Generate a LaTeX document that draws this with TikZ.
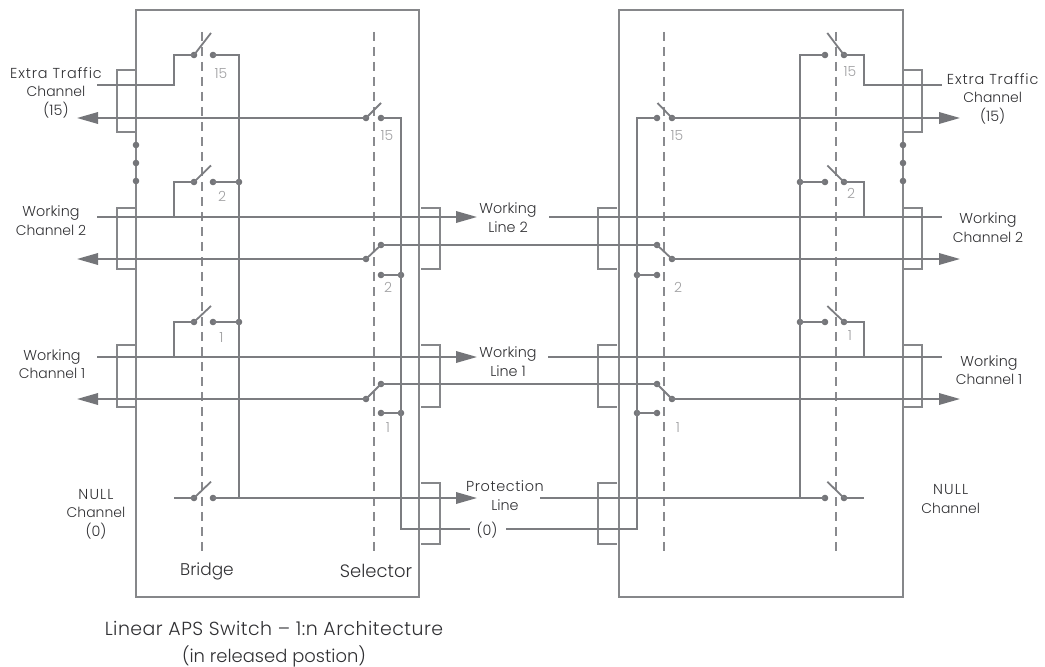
\documentclass[tikz,border=0pt]{standalone}
\usepackage{fontspec}
\setmainfont{Poppins Light}
\usetikzlibrary{arrows.meta}
\definecolor{wirec}{HTML}{7C7D81}
\definecolor{boxc}{HTML}{86878A}
\definecolor{tipc}{HTML}{747579}
\definecolor{numc}{HTML}{A0A0A2}
\definecolor{txtc}{HTML}{303033}
\newcommand\fs[2]{\fontsize{#1}{18.7}\selectfont\addfontfeature{LetterSpace=#2}}
\tikzset{
  wire/.style={draw=wirec,line width=1.8bp,line cap=butt,line join=miter},
  frame/.style={draw=boxc,line width=1.8bp,line join=miter},
  bracket/.style={draw=boxc,line width=1.7bp,line join=miter},
  gang/.style={draw=wirec!90!white,line width=1.8bp,dash pattern=on 9bp off 6bp},
  arrowwire/.style={wire,-{Triangle[length=21bp,width=11.5bp,color=tipc]}},
  contact/.style={circle,fill=tipc,draw=none,minimum size=6.6bp,inner sep=0pt},
  lbl/.style={font=\fontsize{14.4}{18.7}\selectfont,text=txtc,align=center,inner sep=0pt},
  num/.style={font=\fontsize{14}{15}\selectfont,text=numc,inner sep=0pt},
}
\newcommand\Ct[3]{\node[contact] (#1) at (#2,#3) {};}
\newcommand\chan[1]{{\fontsize{14}{18.7}\selectfont #1}}
\newcommand\xtra{{\fs{14.5}{6}Extra Traffic}}
\begin{document}
\begin{tikzpicture}[x=1bp,y=-1bp]
\useasboundingbox (0,0) rectangle (1045,667);
% frames
\coordinate (LBtl) at (136,10);
\coordinate (LBbr) at (419,597);
\coordinate (RBtl) at (619,10);
\coordinate (RBbr) at (903,597);
\draw[frame] (LBtl) rectangle (LBbr);
\draw[frame] (RBtl) rectangle (RBbr);
% gang lines
\foreach \n/\x in {a/202,b/374,c/664,d/836}{
  \coordinate (gang\n t) at (\x,32);
  \coordinate (gang\n b) at (\x,552);
  \draw[gang] (gang\n t) -- (gang\n b);
}
% brackets
\foreach \n/\xa/\xb/\ya/\yb in {
  l1/136/117/70/132, l2/136/117/208/269, l3/136/117/345/407,
  m1/421/440/208/269, m2/421/440/345/407, m3/421/440/483/544,
  n1/617/598/208/269, n2/617/598/345/407, n3/617/598/483/544,
  r1/903/922/70/132, r2/903/922/208/269, r3/903/922/345/407}{
  \coordinate (br\n a) at (\xa,\ya);
  \coordinate (br\n b) at (\xb,\yb);
  \draw[bracket] (br\n a) -| (br\n b) -- (\xa,\yb);
}
% rail dots
\foreach \n/\y in {a/145,b/163,c/181}{
  \Ct{railL\n}{136}{\y}
  \Ct{railR\n}{903}{\y}
}
% ---------- contacts
% left bridge
\foreach \n/\y in {15/55,2/182,1/322,0/498}{
  \Ct{bA\n}{194}{\y}
  \Ct{bB\n}{213}{\y}
}
\Ct{bJ2}{239}{182}
\Ct{bJ1}{239}{322}
% right bridge
\foreach \n/\y in {15/55,2/182,1/322,0/498}{
  \Ct{eA\n}{825}{\y}
  \Ct{eB\n}{844}{\y}
}
\Ct{eJ2}{800}{182}
\Ct{eJ1}{800}{322}
% selector left
\Ct{sA15}{366}{118}
\Ct{sB15}{381}{118}
\Ct{sA2}{366}{259}
\Ct{sB2}{381}{245}
\Ct{sC2}{381}{275}
\Ct{sJ2}{401}{275}
\Ct{sA1}{366}{399}
\Ct{sB1}{381}{384}
\Ct{sC1}{381}{413}
\Ct{sJ1}{401}{413}
% selector right
\Ct{tA15}{672}{118}
\Ct{tB15}{657}{118}
\Ct{tA2}{672}{259}
\Ct{tB2}{657}{245}
\Ct{tC2}{657}{275}
\Ct{tJ2}{637}{275}
\Ct{tA1}{672}{399}
\Ct{tB1}{657}{384}
\Ct{tC1}{657}{413}
\Ct{tJ1}{637}{413}
% ---------- arms
\foreach \n/\y/\t in {15/55/33,2/182/165.5,1/322/306,0/498/481.7}{
  \coordinate (bArm\n) at (211,\t);
  \draw[wire] (bA\n.center) -- (bArm\n);
  \coordinate (eArm\n) at (827.3,\t);
  \draw[wire] (eB\n.center) -- (eArm\n);
}
\coordinate (sArm15) at (381,103);
\draw[wire] (sA15.center) -- (sArm15);
\coordinate (tArm15) at (657.5,103);
\draw[wire] (tA15.center) -- (tArm15);
\draw[wire] (sA2.center) -- (sB2.center);
\draw[wire] (sA1.center) -- (sB1.center);
\draw[wire] (tA2.center) -- (tB2.center);
\draw[wire] (tA1.center) -- (tB1.center);
% ---------- left extra traffic
\coordinate (inE) at (97,85);
\draw[wire] (inE) -| (174,55) -- (bA15.center);
\draw[wire] (bB15.center) -| (239,498);
\coordinate (outE) at (77,118);
\draw[arrowwire] (sA15.center) -- (outE);
\draw[wire] (sB15.center) -| (401,529) -- (470,529);
% left working 2
\coordinate (in2) at (97,217);
\coordinate (line2a) at (477,217);
\draw[arrowwire] (in2) -- (line2a);
\draw[wire] (174,217) |- (bA2.center);
\draw[wire] (bB2.center) -- (bJ2.center);
\coordinate (out2) at (77,259);
\draw[arrowwire] (sA2.center) -- (out2);
\draw[wire] (sC2.center) -- (sJ2.center);
% left working 1
\coordinate (in1) at (97,357);
\coordinate (line1a) at (477,357);
\draw[arrowwire] (in1) -- (line1a);
\draw[wire] (174,357) |- (bA1.center);
\draw[wire] (bB1.center) -- (bJ1.center);
\coordinate (out1) at (77,399);
\draw[arrowwire] (sA1.center) -- (out1);
\draw[wire] (sC1.center) -- (sJ1.center);
% null + protection
\coordinate (inN) at (174,498);
\draw[wire] (inN) -- (bA0.center);
\coordinate (prot) at (477,498);
\draw[arrowwire] (bB0.center) -- (prot);
% spans between switches
\draw[wire] (sB2.center) -- (tB2.center);
\draw[wire] (sB1.center) -- (tB1.center);
% right side
\coordinate (protR) at (540,498);
\draw[wire] (protR) -- (eA0.center);
\draw[wire] (eB0.center) -- (864,498);
\coordinate (zeroR) at (506,529);
\draw[wire] (zeroR) -| (637,118) -- (tB15.center);
\coordinate (outER) at (960,118);
\draw[arrowwire] (tA15.center) -- (outER);
\draw[wire] (tC2.center) -- (tJ2.center);
\draw[wire] (tC1.center) -- (tJ1.center);
\coordinate (outR2) at (960,259);
\draw[arrowwire] (tA2.center) -- (outR2);
\coordinate (outR1) at (960,399);
\draw[arrowwire] (tA1.center) -- (outR1);
\draw[wire] (eA15.center) -| (800,498);
\draw[wire] (eB15.center) -| (864,85) -- (942,85);
\coordinate (line2b) at (549,217);
\coordinate (endR2) at (942,217);
\draw[wire] (line2b) -- (endR2);
\draw[wire] (eJ2.center) -- (eA2.center);
\draw[wire] (eB2.center) -| (864,217);
\coordinate (line1b) at (548,357);
\coordinate (endR1) at (942,357);
\draw[wire] (line1b) -- (endR1);
\draw[wire] (eJ1.center) -- (eA1.center);
\draw[wire] (eB1.center) -| (864,357);
% ---------- numbers
\node[num] (n1) at (221,74) {15};
\node[num] (n2) at (222,196) {2};
\node[num] (n3) at (221.5,337) {1};
\node[num] (n4) at (387,136) {15};
\node[num] (n5) at (388,287) {2};
\node[num] (n6) at (388,427.5) {1};
\node[num] (n7) at (677,136) {15};
\node[num] (n8) at (678,287) {2};
\node[num] (n9) at (678,427.5) {1};
\node[num] (n10) at (850,72) {15};
\node[num] (n11) at (851,193) {2};
\node[num] (n12) at (850,335) {1};
% ---------- labels
\node[lbl] (tE) at (56,92.5) {\xtra\\\chan{Channel}\\(15)};
\node[lbl] (t2) at (51,220.5) {Working\\\chan{Channel 2}};
\node[lbl] (t1) at (52,364) {Working\\\chan{Channel 1}};
\node[lbl] (tN) at (96,514) {{\fs{14.5}{8}NULL}\\\chan{Channel}\\(0)};
\node[lbl,font=\fontsize{17}{19}\selectfont] (tBr) at (207,571) {Bridge};
\node[lbl,font=\fontsize{18}{19}\selectfont] (tSe) at (376,571) {Selector};
\node[lbl] (tL2) at (508,217.5) {Working\\Line 2};
\node[lbl] (tL1) at (508,361.5) {Working\\Line 1};
\node[lbl] (tPr) at (505,495.5) {{\fs{14.5}{4}Protection}\\Line};
\node[lbl] (t0) at (487,530) {(0)};
\node[lbl] (tRE) at (992.7,98.5) {\xtra\\\chan{Channel}\\(15)};
\node[lbl] (tR2) at (988,227.5) {Working\\\chan{Channel 2}};
\node[lbl] (tR1) at (989,370) {Working\\\chan{Channel 1}};
\node[lbl] (tRN) at (950.7,499) {{\fs{14.5}{8}NULL}\\\chan{Channel}};
\node[lbl,font=\fontsize{18}{27}\selectfont,anchor=base] (cap) at (274,662) {{\fontsize{19}{27}\selectfont\addfontfeature{LetterSpace=2.5}Linear APS Switch – 1:n Architecture}\\(in released postion)};
\end{tikzpicture}
\end{document}
